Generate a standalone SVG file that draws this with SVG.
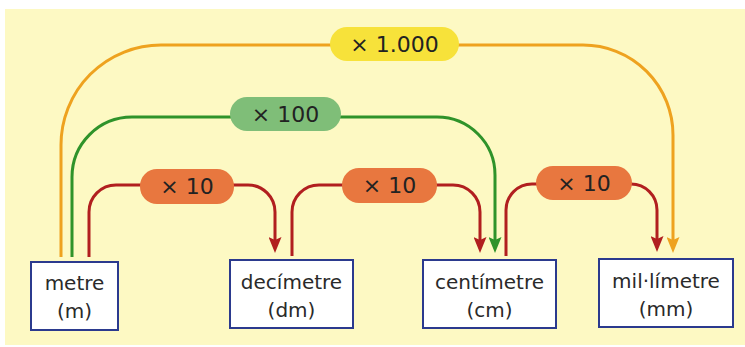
<svg xmlns="http://www.w3.org/2000/svg" width="745" height="347" viewBox="0 0 745 347">
  <defs>
    <style>
      .bg { fill: #fdf9c3; }
      .box { fill: #ffffff; stroke: #2b3a8e; stroke-width: 2; }
      .unit { font-family: "DejaVu Sans", "Liberation Sans", sans-serif; font-size: 20px; fill: #2a2a2a; text-anchor: middle; }
      .lbl { font-family: "DejaVu Sans", "Liberation Sans", sans-serif; font-size: 22px; fill: #222222; text-anchor: middle; }
      .wire { fill: none; stroke-width: 3; }
      .w1000 { stroke: #eea21f; }
      .w100 { stroke: #2f932a; }
      .w10 { stroke: #b11f1f; }
    </style>
    <marker id="arrOrange" viewBox="0 0 16 13" markerWidth="16" markerHeight="13" refX="7" refY="6.5" markerUnits="userSpaceOnUse" orient="auto">
      <path d="M0,0 L16,6.5 L0,13 L3,6.5 z" fill="#eea21f"/>
    </marker>
    <marker id="arrGreen" viewBox="0 0 16 13" markerWidth="16" markerHeight="13" refX="7" refY="6.5" markerUnits="userSpaceOnUse" orient="auto">
      <path d="M0,0 L16,6.5 L0,13 L3,6.5 z" fill="#2f932a"/>
    </marker>
    <marker id="arrRed" viewBox="0 0 16 13" markerWidth="16" markerHeight="13" refX="7" refY="6.5" markerUnits="userSpaceOnUse" orient="auto">
      <path d="M0,0 L16,6.5 L0,13 L3,6.5 z" fill="#b11f1f"/>
    </marker>
  </defs>

  <!-- page -->
  <rect x="0" y="0" width="745" height="347" fill="#ffffff"/>
  <rect class="bg" x="5" y="9" width="740" height="336"/>

  <!-- connectors -->
  <g id="connectors">
    <!-- x 1.000 : metre to mil·límetre -->
    <path class="wire w1000" d="M61,257 V145 A100,100 0 0 1 161,45 H340"/>
    <path class="wire w1000" d="M450,45 H583 A90,90 0 0 1 673,135 V244" marker-end="url(#arrOrange)"/>
    <!-- x 100 : metre to centímetre -->
    <path class="wire w100" d="M72,257 V177 A60,60 0 0 1 132,117 H240"/>
    <path class="wire w100" d="M330,117 H437 A58,58 0 0 1 495,175 V244" marker-end="url(#arrGreen)"/>
    <!-- x 10 steps -->
    <path class="wire w10" d="M89,257 V212 A27,27 0 0 1 116,185 H150"/>
    <path class="wire w10" d="M224,185 H248 A27,27 0 0 1 275,212 V244" marker-end="url(#arrRed)"/>
    <path class="wire w10" d="M292,256 V212 A27,27 0 0 1 319,185 H352"/>
    <path class="wire w10" d="M427,185 H453 A27,27 0 0 1 480,212 V244" marker-end="url(#arrRed)"/>
    <path class="wire w10" d="M506,256 V210 A26,26 0 0 1 532,184 H546"/>
    <path class="wire w10" d="M622,184 H631 A26,26 0 0 1 657,210 V243" marker-end="url(#arrRed)"/>
  </g>

  <!-- factor labels -->
  <g id="label-1000">
    <rect x="330" y="27" width="129" height="34" rx="17" fill="#f7e23a"/>
    <text class="lbl" x="394.5" y="52">× 1.000</text>
  </g>
  <g id="label-100">
    <rect x="230" y="97" width="111" height="34" rx="17" fill="#7fbe78"/>
    <text class="lbl" x="285.5" y="122">× 100</text>
  </g>
  <g id="label-10-a">
    <rect x="140" y="169" width="94" height="35" rx="17" fill="#e8773f"/>
    <text class="lbl" x="187" y="194">× 10</text>
  </g>
  <g id="label-10-b">
    <rect x="342" y="168" width="95" height="35" rx="17" fill="#e8773f"/>
    <text class="lbl" x="389.5" y="193">× 10</text>
  </g>
  <g id="label-10-c">
    <rect x="536" y="166" width="96" height="34" rx="17" fill="#e8773f"/>
    <text class="lbl" x="584" y="191">× 10</text>
  </g>

  <!-- unit boxes -->
  <g id="metre">
    <rect class="box" x="31" y="262" width="87" height="68"/>
    <text class="unit" x="74.5" y="290">metre</text>
    <text class="unit" x="74.5" y="318">(m)</text>
  </g>
  <g id="decimetre">
    <rect class="box" x="230" y="260" width="123" height="68"/>
    <text class="unit" x="291.5" y="289">decímetre</text>
    <text class="unit" x="291.5" y="317">(dm)</text>
  </g>
  <g id="centimetre">
    <rect class="box" x="423" y="260" width="133" height="68"/>
    <text class="unit" x="489.5" y="289">centímetre</text>
    <text class="unit" x="489.5" y="317">(cm)</text>
  </g>
  <g id="millimetre">
    <rect class="box" x="599" y="259" width="134" height="68"/>
    <text class="unit" x="666" y="288">mil·límetre</text>
    <text class="unit" x="666" y="316">(mm)</text>
  </g>
</svg>
